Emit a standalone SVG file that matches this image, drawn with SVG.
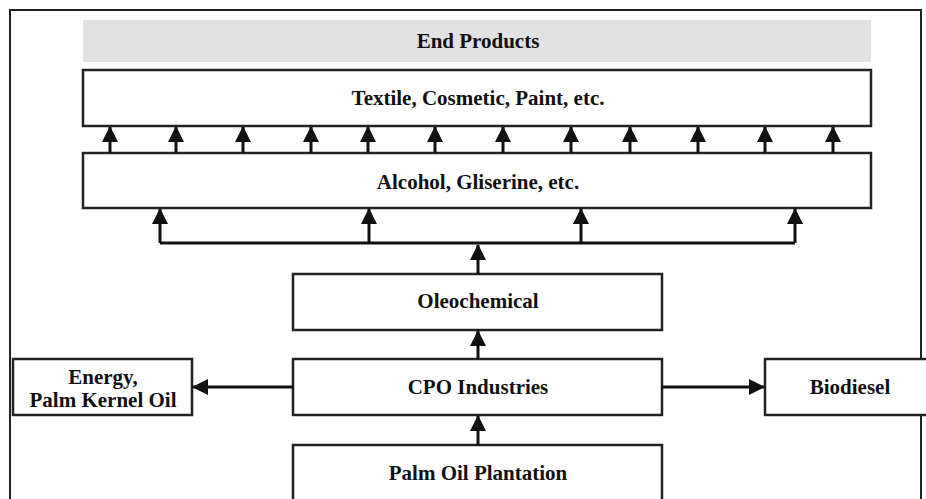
<svg xmlns="http://www.w3.org/2000/svg" width="926" height="499" viewBox="0 0 926 499">
<defs>
<style>
.box{fill:#fff;stroke:#222;stroke-width:2.5}
.lbl{font-family:"Liberation Serif","Times New Roman",serif;font-weight:bold;font-size:21px;fill:#111;text-anchor:middle}
.ln{fill:none;stroke:#111;stroke-width:3}
</style>
<marker id="ah" viewBox="0 0 16 16" refX="15" refY="8" markerWidth="16" markerHeight="16" markerUnits="userSpaceOnUse" orient="auto">
<path d="M0,0 L16,8 L0,16 Z" fill="#111"/>
</marker>
</defs>
<rect width="926" height="499" fill="#fff"/>
<rect id="frame" x="10" y="10" width="911" height="520" fill="none" stroke="#222" stroke-width="2"/>
<g id="end-products">
<rect x="83" y="20" width="788" height="42" fill="#e2e2e2"/>
<text class="lbl" x="478" y="48">End Products</text>
</g>
<g id="textile">
<rect class="box" x="83" y="70" width="788" height="56"/>
<text class="lbl" x="478" y="105">Textile, Cosmetic, Paint, etc.</text>
</g>
<g id="alcohol">
<rect class="box" x="83" y="153" width="788" height="55"/>
<text class="lbl" x="478" y="189">Alcohol, Gliserine, etc.</text>
</g>
<g id="oleochemical">
<rect class="box" x="293" y="274" width="369" height="56"/>
<text class="lbl" x="478" y="308">Oleochemical</text>
</g>
<g id="cpo">
<rect class="box" x="293" y="359" width="369" height="56"/>
<text class="lbl" x="478" y="394">CPO Industries</text>
</g>
<g id="plantation">
<rect class="box" x="293" y="445" width="369" height="70"/>
<text class="lbl" x="478" y="480">Palm Oil Plantation</text>
</g>
<g id="energy">
<rect class="box" x="13" y="359" width="179" height="56"/>
<text class="lbl" x="103" y="384">Energy,</text>
<text class="lbl" x="103" y="407">Palm Kernel Oil</text>
</g>
<g id="biodiesel">
<rect class="box" x="765" y="359" width="170" height="56"/>
<text class="lbl" x="850" y="394">Biodiesel</text>
</g>
<g id="connectors" class="ln" marker-end="url(#ah)">
<line x1="110" y1="153" x2="110" y2="127"/>
<line x1="176" y1="153" x2="176" y2="127"/>
<line x1="243" y1="153" x2="243" y2="127"/>
<line x1="311" y1="153" x2="311" y2="127"/>
<line x1="368" y1="153" x2="368" y2="127"/>
<line x1="435" y1="153" x2="435" y2="127"/>
<line x1="503" y1="153" x2="503" y2="127"/>
<line x1="571" y1="153" x2="571" y2="127"/>
<line x1="630" y1="153" x2="630" y2="127"/>
<line x1="698" y1="153" x2="698" y2="127"/>
<line x1="765" y1="153" x2="765" y2="127"/>
<line x1="833" y1="153" x2="833" y2="127"/>
<path d="M160,243 L160,209"/>
<path d="M160,243 L795,243" marker-end="none"/>
<path d="M369,243 L369,209"/>
<path d="M581,243 L581,209"/>
<path d="M795,243 L795,209"/>
<path d="M478,274 L478,245"/>
<path d="M478,359 L478,331"/>
<path d="M478,445 L478,416"/>
<path d="M293,387 L193,387"/>
<path d="M662,387 L764,387"/>
</g>
</svg>
